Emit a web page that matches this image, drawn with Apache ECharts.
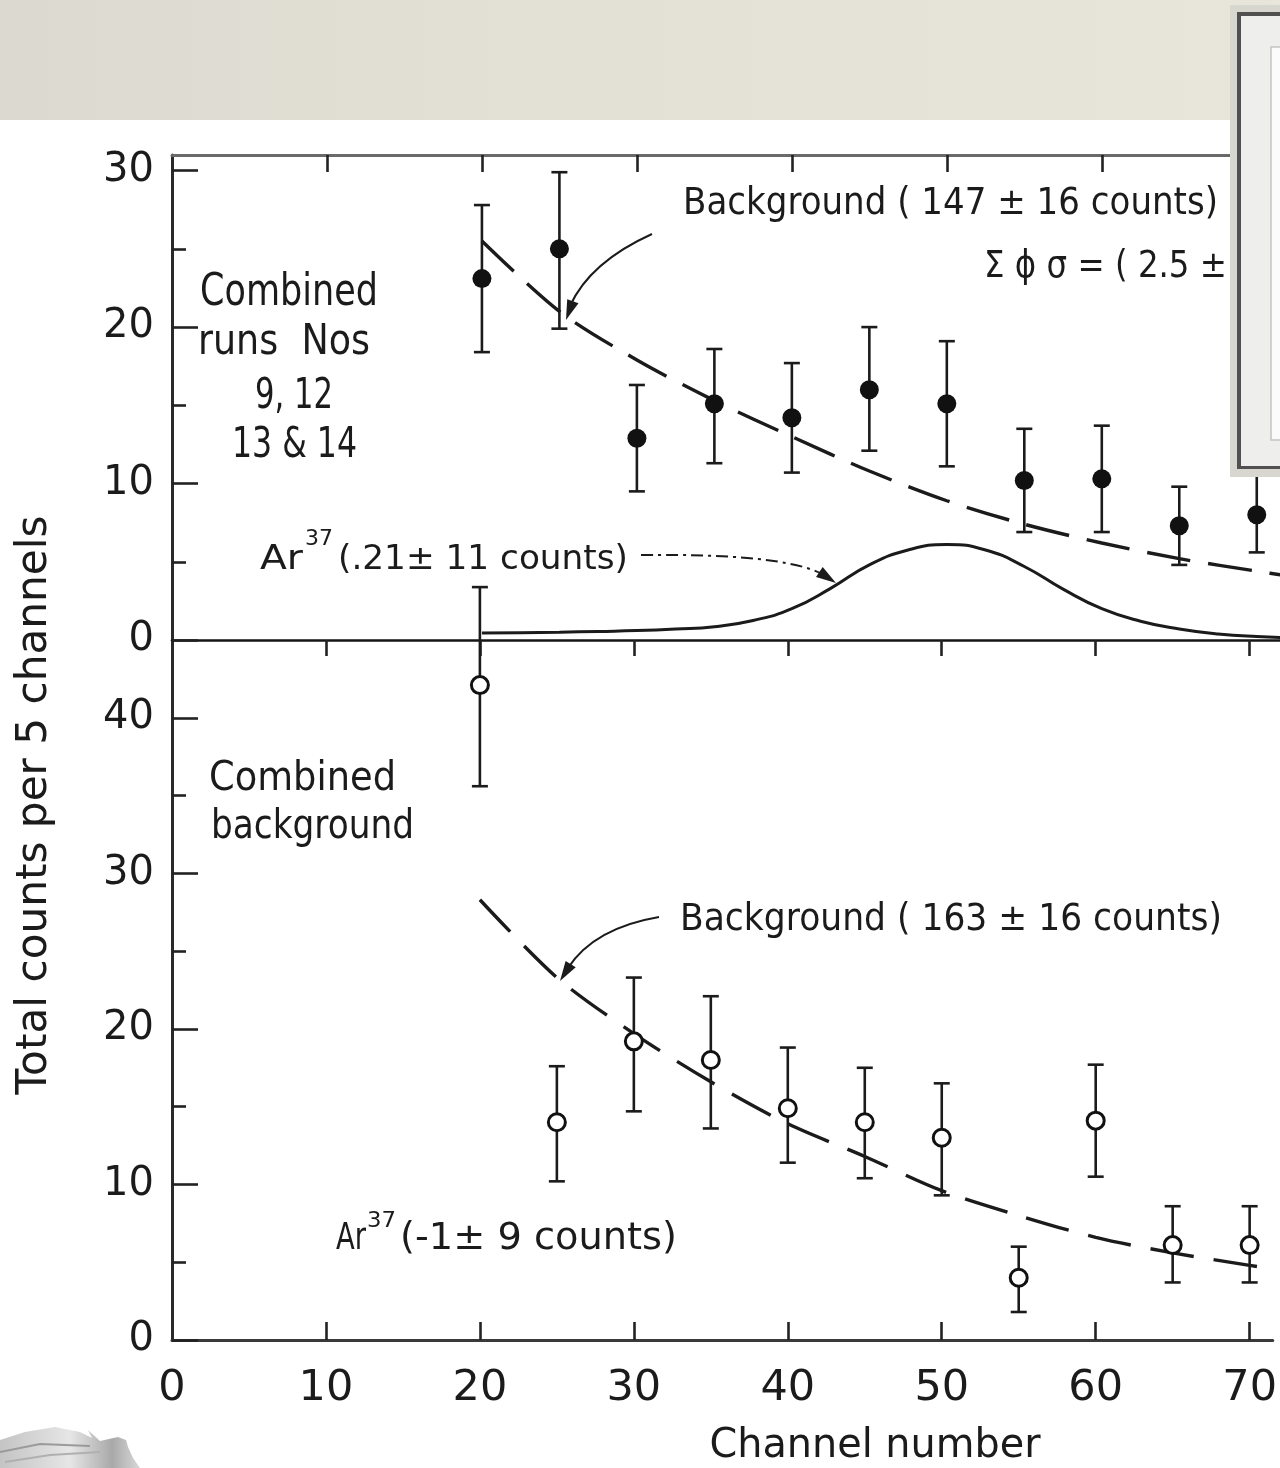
<!DOCTYPE html>
<html><head><meta charset="utf-8">
<script src="https://cdn.jsdelivr.net/npm/echarts@6/dist/echarts.min.js"></script>
<style>html,body{margin:0;padding:0;background:#fff}#c{width:1280px;height:1468px}</style>
</head><body><div id="c"></div>
<script>
// ---------- data ----------
const xTicks = [0, 10, 20, 30, 40, 50, 60, 70];
const xInnerTicks = [10, 20, 30, 40, 50, 60, 70];
const topYTicks = [0, 10, 20, 30];
const topYMinor = [5, 15, 25];
const botYTicks = [0, 10, 20, 30, 40];
const botYMinor = [5, 15, 25, 35];

// upper panel: combined runs (filled dots)
const topX    = [20, 25, 30, 35, 40, 45, 50, 55, 60, 65, 70];
const topY    = [23.1, 25.0, 12.9, 15.1, 14.2, 16.0, 15.1, 10.2, 10.3, 7.3, 8.0];
const topLow  = [18.4, 19.9, 9.5, 11.3, 10.7, 12.1, 11.1, 6.9, 6.9, 4.8, 5.6];
const topHigh = [27.8, 29.9, 16.3, 18.6, 17.7, 20.0, 19.1, 13.5, 13.7, 9.8, 10.6];

// upper panel: background fit (dashed)
const topBgX = [20, 25, 30, 35, 40, 45, 50, 55, 60, 65, 70, 72];
const topBgY = [25.5, 21.0, 17.9, 15.3, 13.0, 10.8, 8.9, 7.4, 6.2, 5.2, 4.4, 4.1];

// upper panel: Ar37 peak (solid)
const arX = [20, 22.5, 25, 27.5, 30, 32.5, 35, 37.5, 40, 42.5, 45, 47.5, 50, 52.5, 55, 57.5, 60, 62.5, 65, 67.5, 70, 72.5];
const arY = [0.45, 0.47, 0.5, 0.55, 0.6, 0.7, 0.85, 1.25, 2.0, 3.3, 4.8, 5.75, 6.1, 5.75, 4.7, 3.25, 2.0, 1.2, 0.7, 0.38, 0.22, 0.15];

// lower panel: combined background (open circles)
const botX    = [20, 25, 30, 35, 40, 45, 50, 55, 60, 65, 70];
const botY    = [42.1, 14.0, 19.2, 18.0, 14.9, 14.0, 13.0, 4.0, 14.1, 6.1, 6.1];
const botLow  = [35.6, 10.2, 14.7, 13.6, 11.4, 10.4, 9.3, 1.8, 10.5, 3.7, 3.7];
const botHigh = [48.4, 17.6, 23.3, 22.1, 18.8, 17.5, 16.5, 6.0, 17.7, 8.6, 8.6];

// lower panel: background fit (dashed)
const botBgX = [20, 25, 30, 35, 40, 45, 50, 55, 60, 65, 70, 72];
const botBgY = [28.3, 23.3, 19.7, 16.6, 13.9, 11.8, 9.6, 8.0, 6.6, 5.6, 4.8, 4.5];

// ---------- helpers ----------
const INK = '#1b1b1b';
const FONT = 'DejaVu Sans';
const mctx = document.createElement('canvas').getContext('2d');
function measure(t, size) { mctx.font = size + 'px "' + FONT + '"'; return mctx.measureText(t).width; }
function label(text, left, right, cy, size, extra) {
  const w = measure(text, size);
  const sx = (right - left) / w;
  return Object.assign({
    type: 'text', x: left, y: cy, scaleX: sx, z: 50,
    style: { text: text, fill: INK, fontSize: size, fontFamily: FONT,
      textAlign: 'left', align: 'left', textVerticalAlign: 'middle', verticalAlign: 'middle' }
  }, extra || {});
}
function arrowHead(tx, ty, fx, fy, len, half) {
  const dx = tx - fx, dy = ty - fy, d = Math.hypot(dx, dy);
  const ux = dx / d, uy = dy / d;
  const bx = tx - ux * len, by = ty - uy * len;
  return { type: 'polygon', z: 50, shape: { points: [[tx, ty], [bx - uy * half, by + ux * half], [bx + uy * half, by - ux * half]] }, style: { fill: INK } };
}
function errRender(params, api) {
  const x = api.value(0), lo = api.value(1), hi = api.value(2);
  const p1 = api.coord([x, lo]), p2 = api.coord([x, hi]);
  const w = 8;
  const st = { stroke: INK, lineWidth: 2.6 };
  return { type: 'group', children: [
    { type: 'line', shape: { x1: p1[0], y1: p1[1], x2: p2[0], y2: p2[1] }, style: st },
    { type: 'line', shape: { x1: p1[0] - w, y1: p1[1], x2: p1[0] + w, y2: p1[1] }, style: st },
    { type: 'line', shape: { x1: p2[0] - w, y1: p2[1], x2: p2[0] + w, y2: p2[1] }, style: st }
  ]};
}
const zip = (a, b) => a.map((v, i) => [v, b[i]]);
const zip3 = (a, b, c) => a.map((v, i) => [v, b[i], c[i]]);

// ---------- axes ----------
const XMAX = 71.5;
function xAx(grid, pos, o) {
  return Object.assign({
    type: 'value', gridIndex: grid, position: pos, min: 0, max: XMAX, interval: 10,
    splitLine: { show: false },
    axisLine: { show: true, onZero: false, lineStyle: { color: '#2a2a2a', width: 3 } },
    axisTick: { show: false }, axisLabel: { show: false }
  }, o);
}
function yAx(grid, max, o) {
  return Object.assign({
    type: 'value', gridIndex: grid, position: 'left', min: 0, max: max, interval: 10,
    splitLine: { show: false },
    axisLine: { show: false, onZero: false },
    axisTick: { show: false }, axisLabel: { show: false }
  }, o);
}
const tickStyle = { color: '#222', width: 2.6 };

const option = {
  animation: false,
  backgroundColor: '#ffffff',
  grid: [
    { left: 172, top: 155, width: 1108, height: 485 },
    { left: 172, top: 640, width: 1108, height: 700 }
  ],
  xAxis: [
    xAx(0, 'bottom', { axisLine: { show: true, onZero: false, lineStyle: { color: '#151515', width: 2.6 } } }),
    xAx(0, 'top', { axisLine: { show: true, onZero: false, lineStyle: { color: '#6a6a6a', width: 3 } },
      axisTick: { show: true, inside: true, length: 17, customValues: xInnerTicks, lineStyle: tickStyle } }),
    xAx(1, 'bottom', { axisLine: { show: true, onZero: false, lineStyle: { color: '#3a3a3a', width: 3 } },
      axisTick: { show: true, inside: true, length: 18, customValues: xInnerTicks, lineStyle: tickStyle },
      axisLabel: { show: true, customValues: xTicks, margin: 27, fontSize: 43, fontFamily: FONT, color: INK } }),
    xAx(1, 'top', { axisLine: { show: false, onZero: false },
      axisTick: { show: true, inside: true, length: 16, customValues: xInnerTicks, lineStyle: tickStyle } })
  ],
  yAxis: [
    yAx(0, 31, { axisLine: { show: true, onZero: false, lineStyle: { color: '#2a2a2a', width: 3 } },
      axisTick: { show: true, inside: true, length: 26, customValues: topYTicks, lineStyle: tickStyle },
      axisLabel: { show: true, customValues: topYTicks, margin: 18, fontSize: 40, fontFamily: FONT, color: INK } }),
    yAx(0, 31, { axisTick: { show: true, inside: true, length: 14, customValues: topYMinor, lineStyle: tickStyle } }),
    yAx(1, 45, { axisLine: { show: true, onZero: false, lineStyle: { color: '#2a2a2a', width: 3 } },
      axisTick: { show: true, inside: true, length: 26, customValues: botYTicks, lineStyle: tickStyle },
      axisLabel: { show: true, customValues: botYTicks, margin: 18, fontSize: 40, fontFamily: FONT, color: INK } }),
    yAx(1, 45, { axisTick: { show: true, inside: true, length: 14, customValues: botYMinor, lineStyle: tickStyle } })
  ],
  series: [
    { type: 'line', xAxisIndex: 0, yAxisIndex: 0, data: zip(topBgX, topBgY), smooth: 0.3, symbol: 'none',
      lineStyle: { color: INK, width: 3.4, type: [44, 18] }, z: 3 },
    { type: 'line', xAxisIndex: 0, yAxisIndex: 0, data: zip(arX, arY), smooth: 0.5, symbol: 'none',
      lineStyle: { color: INK, width: 3 }, z: 3 },
    { type: 'custom', xAxisIndex: 0, yAxisIndex: 0, data: zip3(topX, topLow, topHigh), renderItem: errRender,
      encode: { x: 0, y: [1, 2] }, clip: false, z: 4 },
    { type: 'scatter', xAxisIndex: 0, yAxisIndex: 0, data: zip(topX, topY), symbol: 'circle', symbolSize: 19,
      itemStyle: { color: '#111', opacity: 1 }, z: 5 },

    { type: 'line', xAxisIndex: 2, yAxisIndex: 2, data: zip(botBgX, botBgY), smooth: 0.3, symbol: 'none',
      lineStyle: { color: INK, width: 3.4, type: [44, 20] }, z: 3 },
    { type: 'custom', xAxisIndex: 2, yAxisIndex: 2, data: zip3(botX, botLow, botHigh), renderItem: errRender,
      encode: { x: 0, y: [1, 2] }, clip: false, z: 4 },
    { type: 'scatter', xAxisIndex: 2, yAxisIndex: 2, data: zip(botX, botY), symbol: 'circle', symbolSize: 17,
      itemStyle: { color: '#ffffff', borderColor: '#111', borderWidth: 3, opacity: 1 }, z: 5 }
  ],
  graphic: { elements: [
    // scanned page band at top
    { type: 'rect', z: 0, shape: { x: 0, y: 0, width: 1280, height: 120 },
      style: { fill: new echarts.graphic.LinearGradient(0, 0, 1, 0, [
        { offset: 0, color: '#dcd9d0' }, { offset: 0.35, color: '#e2dfd5' }, { offset: 1, color: '#e8e5da' }]) } },

    // annotations
    label('Background ( 147 ± 16 counts)', 683, 1218, 204, 37),
    label('Σ ϕ σ = ( 2.5 ±', 984, 1227, 267, 37),
    label('Combined', 200, 378, 294, 44),
    label('runs  Nos', 198, 370, 343, 42),
    label('9, 12', 255, 333, 397, 42),
    label('13 & 14', 232, 357, 446, 42),
    label('Ar', 260, 303, 560, 34),
    label('37', 305, 333, 539, 22),
    label('(.21± 11 counts)', 338, 628, 560, 34),
    label('Combined', 209, 396, 780, 40),
    label('background', 211, 414, 828, 40),
    label('Background ( 163 ± 16 counts)', 680, 1222, 920, 37),
    label('Ar', 336, 366, 1239, 37),
    label('37', 367, 396, 1221, 22),
    label('(-1± 9 counts)', 400, 677, 1239, 37),

    // axis titles
    (function () { const t = 'Total counts per 5 channels', s = 42, w = measure(t, s);
      return { type: 'text', x: 35, y: 805, rotation: Math.PI / 2, scaleX: 579 / w, z: 50,
        style: { text: t, fill: INK, fontSize: s, fontFamily: FONT, textAlign: 'center', align: 'center', textVerticalAlign: 'middle', verticalAlign: 'middle' } }; })(),
    (function () { const t = 'Channel number', s = 40, w = measure(t, s);
      return { type: 'text', x: 875, y: 1447, scaleX: 331 / w, z: 50,
        style: { text: t, fill: INK, fontSize: s, fontFamily: FONT, textAlign: 'center', align: 'center', textVerticalAlign: 'middle', verticalAlign: 'middle' } }; })(),

    // arrows
    { type: 'bezierCurve', z: 50, shape: { x1: 652, y1: 234, cpx1: 590, cpy1: 262, x2: 570, y2: 306 },
      style: { stroke: INK, lineWidth: 2, fill: null } },
    arrowHead(566, 320, 574, 298, 20, 6),
    { type: 'bezierCurve', z: 50, shape: { x1: 641, y1: 555, cpx1: 735, cpy1: 554, cpx2: 795, cpy2: 560, x2: 822, y2: 574 },
      style: { stroke: INK, lineWidth: 2, fill: null, lineDash: [12, 5, 3, 5] } },
    arrowHead(836, 583, 818, 571, 20, 6),
    { type: 'bezierCurve', z: 50, shape: { x1: 659, y1: 917, cpx1: 594, cpy1: 928, x2: 568, y2: 968 },
      style: { stroke: INK, lineWidth: 2, fill: null } },
    arrowHead(560, 981, 572, 962, 20, 6),

    // feather in the corner
    { type: 'polygon', z: 60, shape: { points: [[0, 1440], [25, 1432], [55, 1427], [80, 1432], [92, 1438], [88, 1430], [100, 1441], [118, 1437], [126, 1440], [128, 1447], [133, 1458], [140, 1468], [0, 1468]] },
      style: { fill: new echarts.graphic.LinearGradient(0, 0, 1, 0, [
        { offset: 0, color: '#c4c4c4' }, { offset: 0.5, color: '#e6e6e6' }, { offset: 0.8, color: '#a9a9a9' }, { offset: 1, color: '#d8d8d8' }]) } },
    { type: 'polyline', z: 61, shape: { points: [[0, 1452], [40, 1444], [90, 1446]] }, style: { stroke: '#9a9a9a', lineWidth: 2 } },
    { type: 'polyline', z: 61, shape: { points: [[5, 1462], [50, 1455], [100, 1452]] }, style: { stroke: '#b0b0b0', lineWidth: 2 } },

    // window box at top right
    { type: 'rect', z: 100, shape: { x: 1230, y: 5, width: 50, height: 472 }, style: { fill: '#d8d7cf' } },
    { type: 'rect', z: 101, shape: { x: 1237, y: 12, width: 43, height: 457 }, style: { fill: '#505050' } },
    { type: 'rect', z: 102, shape: { x: 1241, y: 16, width: 39, height: 450 }, style: { fill: '#eeeeec' } },
    { type: 'rect', z: 103, shape: { x: 1271, y: 47, width: 12, height: 393 }, style: { fill: '#fbfbfb', stroke: '#c4c4c4', lineWidth: 1.5 } }
  ] }
};

const chart = echarts.init(document.getElementById('c'), null, { renderer: 'canvas' });
chart.setOption(option);
</script>
</body></html>
